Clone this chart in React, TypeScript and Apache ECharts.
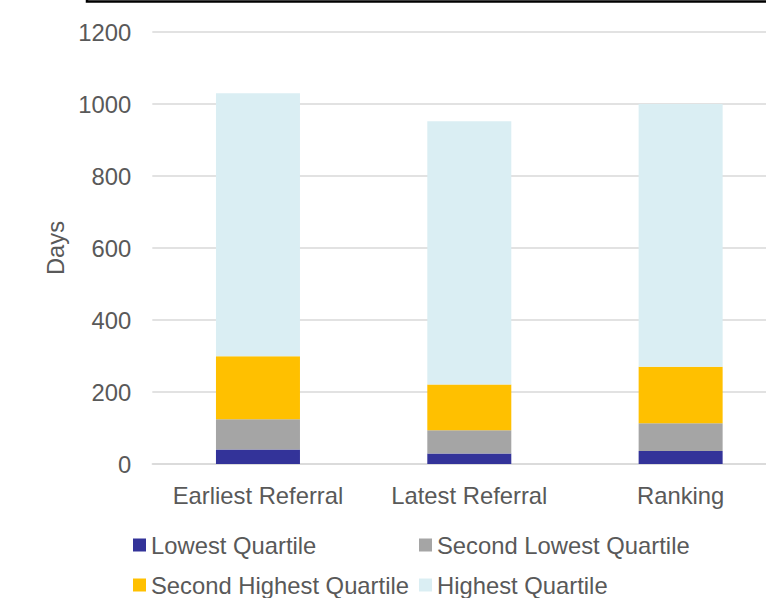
import React, { useEffect, useRef } from "react";
import * as echarts from "echarts";

const categories = ["Earliest Referral", "Latest Referral", "Ranking"];
const seriesNames = [
  "Lowest Quartile",
  "Second Lowest Quartile",
  "Second Highest Quartile",
  "Highest Quartile",
];
const lowest = [40, 29, 36];
const secondLowest = [84, 65, 77];
const secondHighest = [175, 127, 157];
const highest = [731, 731, 730];
const colors = ["#333399", "#A5A5A5", "#FFC000", "#DAEEF3"];

const FONT = "'Liberation Sans', Arial, sans-serif";
const TEXT = "#595959";
const FS = 23.8;

export default function App() {
  const ref = useRef<HTMLDivElement>(null);
  useEffect(() => {
    if (!ref.current) return;
    const chart = echarts.init(ref.current, undefined, { renderer: "svg" });
    const values = [lowest, secondLowest, secondHighest, highest];
    const legendPos = [
      { left: 133, top: 533 },
      { left: 419, top: 533 },
      { left: 133, top: 573 },
      { left: 419, top: 573 },
    ];
    chart.setOption({
      animation: false,
      textStyle: { fontFamily: FONT },
      grid: { left: 152.3, top: 32, width: 634, height: 432, containLabel: false },
      legend: seriesNames.map((n, i) => ({
        data: [n],
        left: legendPos[i].left,
        top: legendPos[i].top,
        itemWidth: 13,
        itemHeight: 13,
        itemGap: 5,
        padding: 0,
        icon: "rect",
        textStyle: { color: TEXT, fontSize: FS, fontFamily: FONT },
      })),
      xAxis: {
        type: "category",
        data: categories,
        axisLine: { show: true, lineStyle: { color: "#D9D9D9", width: 1.5 } },
        axisTick: { show: false },
        axisLabel: { color: TEXT, fontSize: FS, fontFamily: FONT, margin: 19, interval: 0 },
      },
      yAxis: {
        type: "value",
        min: 0,
        max: 1200,
        interval: 200,
        name: "Days",
        nameLocation: "middle",
        nameGap: 80,
        nameTextStyle: { color: TEXT, fontSize: FS, fontFamily: FONT },
        axisLine: { show: false },
        axisTick: { show: false },
        axisLabel: {
          color: TEXT,
          fontSize: FS,
          fontFamily: FONT,
          margin: 21,
          formatter: (v: number) => String(v),
        },
        splitLine: { lineStyle: { color: "#D9D9D9", width: 1.5 } },
      },
      series: seriesNames.map((n, i) => ({
        name: n,
        type: "bar",
        stack: "total",
        barWidth: 84,
        data: values[i],
        itemStyle: { color: colors[i] },
      })),
      graphic: [
        {
          type: "polyline",
          shape: { points: [[87, -5], [87, 1.5], [800, 1.5]] },
          style: { stroke: "#000", lineWidth: 2.5, fill: null },
        },
      ],
    });
    return () => chart.dispose();
  }, []);
  return (
    <div
      style={{
        position: "fixed",
        left: 0,
        top: 0,
        width: 766,
        height: 598,
        overflow: "hidden",
        background: "#fff",
      }}
    >
      <div ref={ref} style={{ width: 800, height: 598 }} />
    </div>
  );
}
